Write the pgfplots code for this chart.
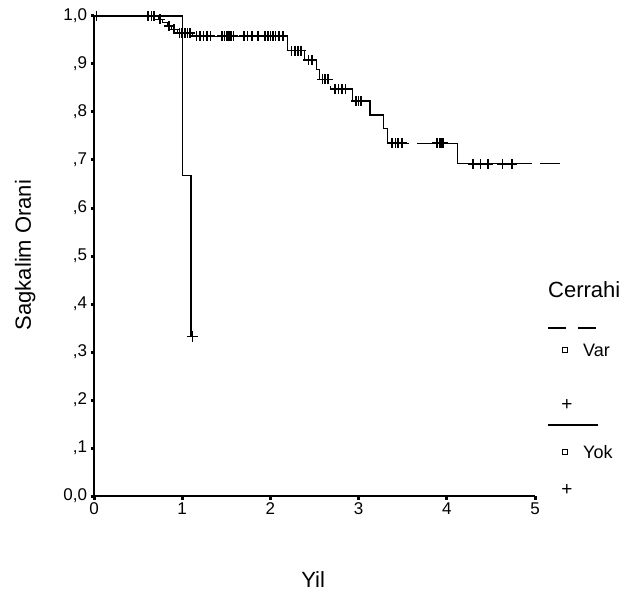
\documentclass[border=0pt]{standalone}
\usepackage{fontspec}
\setmainfont{Liberation Sans}
\usepackage{pgfplots}
\pgfplotsset{compat=1.18}
\begin{document}
\begin{tikzpicture}
\path[use as bounding box] (0,0) rectangle (634pt,595pt);
\begin{axis}[
  at={(94pt,99pt)}, anchor=south west,
  width=441pt, height=480pt, scale only axis,
  xmin=0, xmax=5, ymin=0, ymax=1, clip=false,
  axis x line=bottom, axis y line=left,
  axis line style={-, line width=1.1pt},
  tick align=outside, major tick length=3.5pt,
  tick style={line width=3pt, black},
  xtick={0,1,2,3,4,5}, xticklabels={0,1,2,3,4,5},
  ytick={0,0.1,0.2,0.3,0.4,0.5,0.6,0.7,0.8,0.9,1},
  yticklabels={{0,0},{,1},{,2},{,3},{,4},{,5},{,6},{,7},{,8},{,9},{1,0}},
  /pgf/number format/assume math mode=true,
  ticklabel style={font=\fontsize{17}{19}\selectfont},
  xlabel={Yil}, ylabel={Sagkalim Orani},
  label style={font=\fontsize{22}{24}\selectfont},
  xlabel style={at={(axis description cs:0.497,-0.175)}, anchor=center},
  ylabel style={at={(axis description cs:-0.156,0.502)}, anchor=center},
]
% Var (dashed, long dashes)
\addplot[const plot, black, line width=1.3pt, dash pattern=on 136pt off 8pt, dash phase=126pt] coordinates {
(0,1) (0.73,0.993) (0.78,0.986) (0.83,0.979) (0.88,0.972) (0.95,0.965)
(1.12,0.958) (2.19,0.928) (2.39,0.908) (2.52,0.888) (2.56,0.868)
(2.68,0.848) (2.93,0.823) (3.13,0.794) (3.28,0.765) (3.33,0.735)
(4.12,0.692) (5.28,0.692)};
\addplot[only marks, mark=+, mark size=5pt, black, line width=1.6pt] coordinates {
(0.03,1) (0.61,1) (0.65,1) (0.68,1)
(0.75,0.993) (0.85,0.979) (0.91,0.972)
(0.97,0.965) (1.00,0.965) (1.03,0.965) (1.06,0.965) (1.09,0.965)
(1.16,0.958) (1.20,0.958) (1.24,0.958) (1.28,0.958) (1.32,0.958)
(1.45,0.958) (1.48,0.958) (1.50,0.958) (1.52,0.958) (1.54,0.958) (1.56,0.958) (1.58,0.958)
(1.70,0.958) (1.74,0.958) (1.79,0.958) (1.86,0.958) (1.94,0.958) (1.97,0.958)
(2.00,0.958) (2.03,0.958) (2.06,0.958) (2.10,0.958) (2.14,0.958)
(2.24,0.928) (2.28,0.928) (2.31,0.928) (2.35,0.928)
(2.43,0.908) (2.47,0.908)
(2.59,0.868) (2.62,0.868) (2.65,0.868)
(2.73,0.848) (2.77,0.848) (2.81,0.848) (2.85,0.848)
(2.97,0.823) (3.00,0.823) (3.03,0.823)
(3.38,0.735) (3.42,0.735) (3.45,0.735) (3.49,0.735)
(3.89,0.735) (3.92,0.735) (3.94,0.735) (3.96,0.735)
(4.30,0.692) (4.38,0.692) (4.47,0.692) (4.63,0.692) (4.74,0.692)};
% Yok (solid)
\addplot[const plot, black, line width=1.3pt] coordinates {
(0,1) (1.0,0.667) (1.10,0.333) (1.12,0.333)};
\addplot[only marks, mark=+, mark size=5.5pt, black, line width=1.3pt] coordinates {(1.12,0.333)};
\end{axis}
% legend
\node[anchor=west, font=\fontsize{22}{24}\selectfont, inner sep=0pt] at (548pt,305pt) {Cerrahi};
\draw[line width=1.2pt] (548pt,267pt) -- (566pt,267pt);
\draw[line width=1.2pt] (578pt,267pt) -- (596pt,267pt);
\draw[line width=0.9pt] (562.5pt,242.5pt) rectangle (567.5pt,247.5pt);
\node[anchor=west, font=\fontsize{18}{20}\selectfont, inner sep=0pt] at (583pt,245pt) {Var};
\node[font=\fontsize{19}{21}\selectfont, inner sep=0pt] at (567pt,190pt) {+};
\draw[line width=1.2pt] (548pt,170pt) -- (598pt,170pt);
\draw[line width=0.9pt] (562.5pt,140.5pt) rectangle (567.5pt,145.5pt);
\node[anchor=west, font=\fontsize{18}{20}\selectfont, inner sep=0pt] at (583pt,143pt) {Yok};
\node[font=\fontsize{19}{21}\selectfont, inner sep=0pt] at (567pt,105pt) {+};
\end{tikzpicture}
\end{document}
